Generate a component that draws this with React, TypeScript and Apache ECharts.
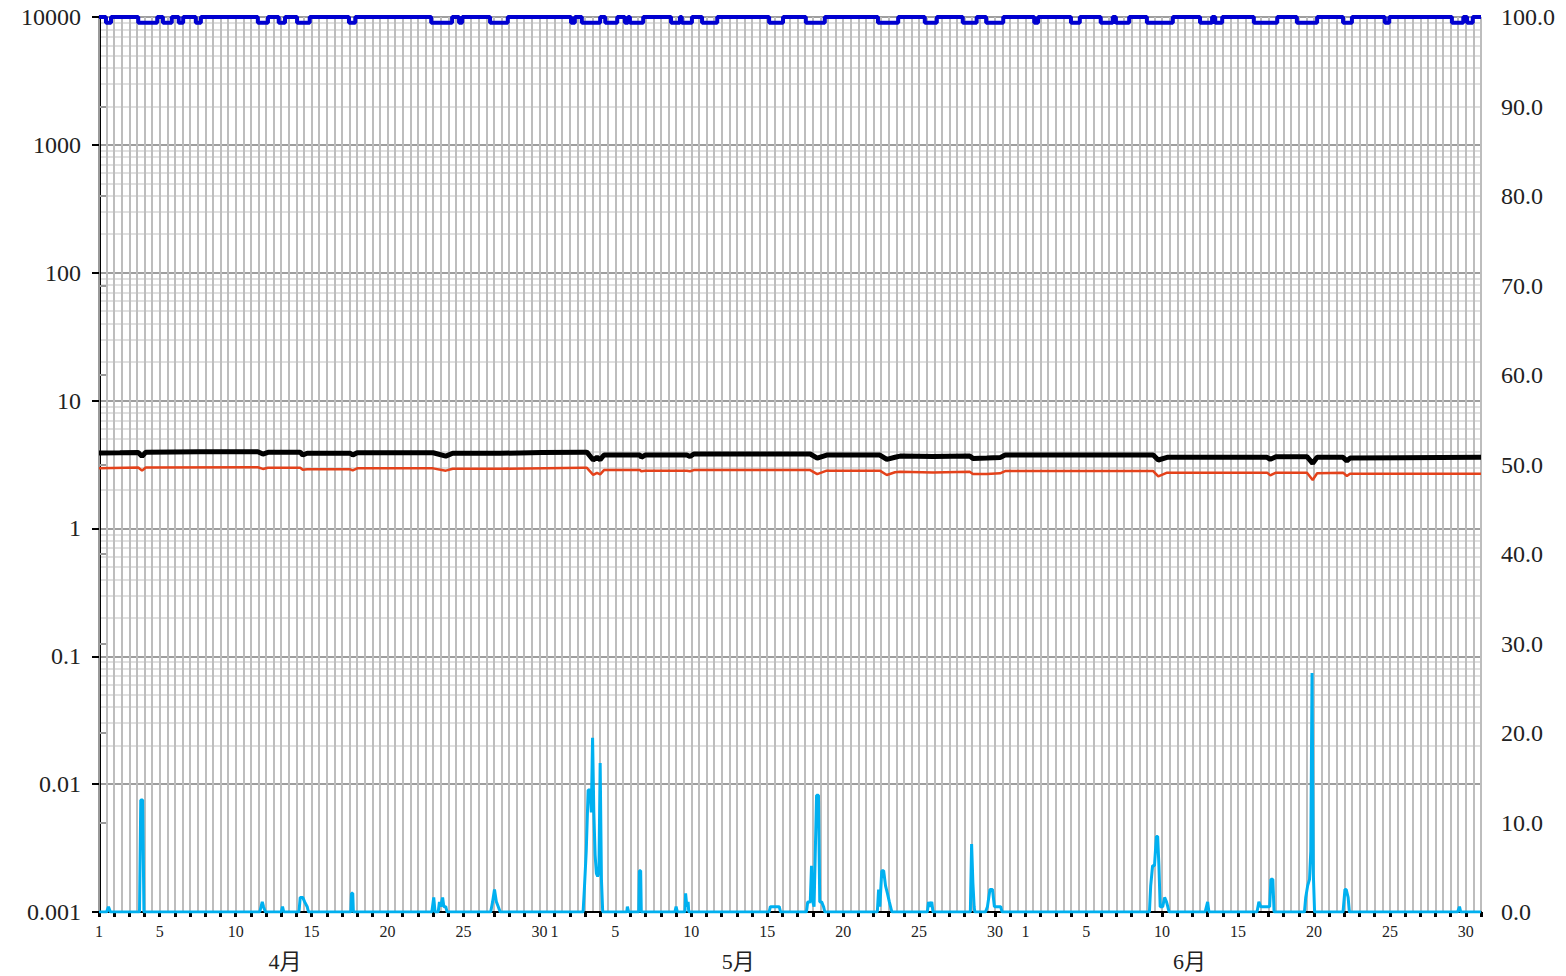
import React, { useEffect, useRef } from 'react';
import * as echarts from 'echarts';

// ---------- data ----------
// x values are hours counted from 1 April 00:00 (3 months: Apr, May, Jun)
const monthDays = [30, 31, 30];
const monthNames = ['4月', '5月', '6月'];
const dayTickLabels = [1, 5, 10, 15, 20, 25, 30];
const logMin = 0.001;
const logMax = 10000;
const rightMax = 100;
const rightInterval = 10;

// black series (left log axis)
const blackPoints: [number, number][] = [
  [0, 3.89], [33, 3.91], [62, 3.93], [68, 3.66], [74, 3.95], [160, 3.98], [251, 3.98], [259, 3.82],
  [267, 3.94], [318, 3.94], [322, 3.75], [329, 3.87], [397, 3.87], [401, 3.75], [408, 3.91],
  [528, 3.91], [548, 3.68], [559, 3.87], [634, 3.87], [700, 3.92], [765, 3.95], [771, 3.95],
  [781, 3.43], [787, 3.6], [792, 3.45], [798, 3.75], [855, 3.75], [857, 3.6], [863, 3.75],
  [929, 3.75], [934, 3.65], [940, 3.82], [1124, 3.82], [1135, 3.55], [1150, 3.75], [1234, 3.75],
  [1245, 3.47], [1258, 3.6], [1266, 3.68], [1318, 3.65], [1376, 3.68], [1381, 3.53], [1403, 3.55],
  [1424, 3.58], [1432, 3.75], [1666, 3.75], [1674, 3.43], [1688, 3.6], [1846, 3.6], [1851, 3.47],
  [1860, 3.64], [1909, 3.64], [1918, 3.23], [1925, 3.6], [1966, 3.6], [1972, 3.38], [1977, 3.55],
  [2056, 3.57], [2184, 3.6],
];

// red series (left log axis)
const redPoints: [number, number][] = [
  [0, 2.95], [62, 3.0], [68, 2.83], [74, 3.0], [251, 3.01], [259, 2.92], [267, 2.98], [318, 2.98],
  [322, 2.88], [329, 2.9], [397, 2.9], [401, 2.84], [408, 2.95], [528, 2.95], [548, 2.83],
  [559, 2.93], [634, 2.93], [765, 2.98], [771, 2.98], [781, 2.62], [787, 2.72], [792, 2.65],
  [798, 2.86], [855, 2.86], [857, 2.8], [863, 2.83], [929, 2.83], [934, 2.8], [940, 2.86],
  [1124, 2.86], [1135, 2.66], [1150, 2.83], [1234, 2.83], [1245, 2.62], [1258, 2.75], [1266, 2.77],
  [1318, 2.74], [1376, 2.77], [1381, 2.66], [1403, 2.66], [1424, 2.7], [1432, 2.81], [1666, 2.81],
  [1674, 2.55], [1688, 2.73], [1846, 2.73], [1851, 2.6], [1860, 2.73], [1909, 2.73], [1918, 2.39],
  [1925, 2.7], [1966, 2.73], [1972, 2.57], [1977, 2.68], [2184, 2.68],
];

// cyan series (left log axis), baseline 0.001
const cyanPoints: [number, number][] = [
  [0, 0.001], [12, 0.001], [15, 0.0011], [18, 0.001],
  [64, 0.001], [66, 0.0075], [69, 0.0075], [71, 0.001],
  [254, 0.001], [258, 0.0012], [260, 0.0011], [263, 0.001],
  [288, 0.001], [290, 0.0011], [292, 0.001],
  [316, 0.001], [318, 0.0013], [322, 0.0013], [325, 0.0012], [329, 0.0011], [331, 0.001],
  [398, 0.001], [399, 0.0014], [401, 0.0014], [402, 0.001],
  [526, 0.001], [529, 0.0013], [531, 0.001],
  [536, 0.001], [538, 0.0012], [540, 0.0011], [543, 0.0013], [545, 0.0011], [548, 0.0011], [550, 0.001],
  [619, 0.001], [622, 0.0012], [625, 0.0015], [628, 0.0012], [631, 0.0011], [634, 0.001],
  [765, 0.001], [767, 0.0015], [770, 0.003], [773, 0.009], [776, 0.009], [778, 0.006], [780, 0.023],
  [782, 0.006], [784, 0.0028], [786, 0.002], [788, 0.0019], [790, 0.002], [792, 0.0146], [794, 0.0018], [796, 0.001],
  [834, 0.001], [835, 0.0011], [837, 0.001],
  [853, 0.001], [854, 0.0021], [856, 0.0021], [857, 0.001],
  [910, 0.001], [912, 0.0011], [914, 0.001],
  [926, 0.001], [927, 0.0014], [929, 0.0011], [931, 0.0012], [932, 0.001],
  [1059, 0.001], [1061, 0.0011], [1075, 0.0011], [1077, 0.001],
  [1118, 0.001], [1120, 0.0012], [1124, 0.0012], [1126, 0.0023], [1128, 0.0012], [1130, 0.0011],
  [1134, 0.0082], [1137, 0.0082], [1139, 0.0012], [1142, 0.0012], [1145, 0.0011], [1147, 0.001],
  [1230, 0.001], [1232, 0.0015], [1234, 0.0011], [1237, 0.0021], [1240, 0.0021], [1243, 0.0016],
  [1246, 0.0014], [1249, 0.0012], [1253, 0.001],
  [1309, 0.001], [1311, 0.0012], [1313, 0.0011], [1316, 0.0012], [1318, 0.001],
  [1377, 0.001], [1379, 0.0034], [1381, 0.0017], [1383, 0.0011], [1384, 0.001],
  [1401, 0.001], [1404, 0.0011], [1408, 0.0015], [1412, 0.0015], [1415, 0.0011], [1425, 0.0011], [1427, 0.001],
  [1660, 0.001], [1662, 0.0016], [1665, 0.0023], [1668, 0.0023], [1671, 0.0039], [1673, 0.0039],
  [1675, 0.0023], [1677, 0.0011], [1681, 0.0011], [1684, 0.0013], [1687, 0.0012], [1689, 0.0011], [1691, 0.001],
  [1748, 0.001], [1752, 0.0012], [1754, 0.001],
  [1830, 0.001], [1833, 0.0012], [1836, 0.0011], [1850, 0.0011], [1852, 0.0018], [1855, 0.0018], [1857, 0.001],
  [1905, 0.001], [1907, 0.0013], [1910, 0.0016], [1913, 0.0018], [1915, 0.003], [1917, 0.074], [1919, 0.002], [1921, 0.001],
  [1966, 0.001], [1969, 0.0015], [1971, 0.0015], [1974, 0.0013], [1976, 0.001],
  [2147, 0.001], [2150, 0.0011], [2152, 0.001],
  [2184, 0.001],
];

// blue series (right axis): normally 100, with dips [startHour, endHour]
const blueTop = 100;
const blueDipValue = 99.35;
const blueDips: [number, number][] = [
  [11, 19], [62, 92], [101, 115], [126, 133], [153, 161], [251, 267], [284, 294], [313, 333],
  [395, 405], [525, 558], [569, 574], [618, 646], [746, 752], [763, 792], [800, 819], [831, 836],
  [839, 860], [904, 918], [921, 937], [953, 977], [1059, 1081], [1117, 1147], [1231, 1263],
  [1305, 1324], [1365, 1387], [1402, 1429], [1478, 1484], [1536, 1550], [1583, 1602], [1607, 1628],
  [1656, 1697], [1740, 1759], [1764, 1775], [1825, 1862], [1893, 1925], [1966, 1980], [2032, 2039],
  [2138, 2156], [2162, 2171],
];

// ---------- layout ----------
const W = 1566;
const H = 976;
const GRID = { left: 99, right: 85, top: 17, bottom: 64 };
const monthLabelDayPos = [12.25, 42.1, 71.8];
const SERIF = 'Liberation Serif';

const X_MAX = monthDays.reduce((a, b) => a + b, 0) * 24;

function dayLabel(v: number): string {
  let d = Math.round(v / 24);
  for (let i = 0; i < monthDays.length; i++) {
    if (d < monthDays[i]) {
      const dom = d + 1;
      return dayTickLabels.includes(dom) ? String(dom) : '';
    }
    d -= monthDays[i];
  }
  return '';
}

function buildBlue(): [number, number][] {
  const out: [number, number][] = [[0, blueTop]];
  for (const [s, e] of blueDips) {
    out.push([s, blueTop], [s, blueDipValue], [e, blueDipValue], [e, blueTop]);
  }
  out.push([X_MAX, blueTop]);
  return out;
}

function minorLogLines() {
  const arr: { yAxis: number }[] = [];
  for (let p = Math.round(Math.log10(logMin)); p < Math.round(Math.log10(logMax)); p++) {
    for (let m = 2; m <= 9; m++) arr.push({ yAxis: Number((m * Math.pow(10, p)).toPrecision(2)) });
  }
  return arr;
}

export default function App() {
  const ref = useRef<HTMLDivElement>(null);
  useEffect(() => {
    if (!ref.current) return;
    const chart = echarts.init(ref.current, null, { renderer: 'svg' });
    const gw = W - GRID.left - GRID.right;
    const option: any = {
      animation: false,
      backgroundColor: '#ffffff',
      grid: { ...GRID, containLabel: false },
      xAxis: {
        type: 'value',
        min: 0,
        max: X_MAX,
        interval: 24,
        z: 2,
        axisLine: { show: true, lineStyle: { color: '#000', width: 2 } },
        axisTick: { show: true, length: 5, lineStyle: { color: '#000', width: 3 } },
        axisLabel: {
          formatter: dayLabel,
          margin: 11,
          fontFamily: SERIF,
          fontSize: 16,
          color: '#222',
          showMinLabel: true,
          showMaxLabel: true,
          hideOverlap: false,
        },
        splitLine: { show: true, lineStyle: { color: '#BDBDBD', width: 2 } },
        minorTick: { show: false, splitNumber: 2 },
        minorSplitLine: { show: true, lineStyle: { color: '#BDBDBD', width: 2 } },
      },
      yAxis: [
        {
          type: 'log',
          logBase: 10,
          min: logMin,
          max: logMax,
          position: 'left',
          z: 2,
          axisLine: { show: true, onZero: false, lineStyle: { color: '#000', width: 3 } },
          axisTick: { show: true, length: 7, lineStyle: { color: '#000', width: 2 } },
          axisLabel: {
            margin: 18,
            fontFamily: SERIF,
            fontSize: 24,
            color: '#222',
            formatter: (v: number) => (v >= 1 ? String(Math.round(v)) : String(Number(v.toPrecision(1)))),
          },
          splitLine: { show: true, lineStyle: { color: '#9E9E9E', width: 2 } },
        },
        {
          type: 'value',
          min: 0,
          max: rightMax,
          interval: rightInterval,
          position: 'right',
          z: 2,
          axisLine: { show: true, lineStyle: { color: '#9A9A9A', width: 2 } },
          axisTick: { show: true, length: 7, lineStyle: { color: '#9A9A9A', width: 2 } },
          axisLabel: {
            margin: 20,
            fontFamily: SERIF,
            fontSize: 24,
            color: '#222',
            formatter: (v: number) => v.toFixed(1),
          },
          splitLine: { show: false },
        },
      ],
      series: [
        {
          name: 'grid-minor',
          type: 'line',
          yAxisIndex: 0,
          z: 1,
          data: [[0, logMin]],
          symbol: 'none',
          lineStyle: { opacity: 0 },
          silent: true,
          markLine: {
            silent: true,
            z: 1,
            symbol: 'none',
            label: { show: false },
            animation: false,
            lineStyle: { color: '#D6D6D6', width: 1.5, type: 'solid' },
            data: minorLogLines(),
          },
        },
        {
          name: 'blue',
          type: 'line',
          yAxisIndex: 1,
          z: 3,
          data: buildBlue(),
          symbol: 'none',
          lineStyle: { color: '#0000D0', width: 4 },
        },
        {
          name: 'black',
          type: 'line',
          yAxisIndex: 0,
          z: 3,
          data: blackPoints,
          symbol: 'none',
          lineStyle: { color: '#000000', width: 5 },
        },
        {
          name: 'red',
          type: 'line',
          yAxisIndex: 0,
          z: 4,
          data: redPoints,
          symbol: 'none',
          lineStyle: { color: '#E4421B', width: 2.5 },
        },
        {
          name: 'cyan',
          type: 'line',
          yAxisIndex: 0,
          z: 5,
          data: cyanPoints,
          symbol: 'none',
          lineStyle: { color: '#00B0F0', width: 3 },
        },
      ],
      graphic: monthNames.map((name, i) => ({
        type: 'text',
        x: GRID.left + (monthLabelDayPos[i] / (X_MAX / 24)) * gw,
        y: 961,
        style: {
          text: name,
          fontFamily: "Liberation Serif, 'Noto Sans CJK JP'",
          fontSize: 22,
          fill: '#222',
          textAlign: 'center',
          textVerticalAlign: 'middle',
        },
      })),
    };
    chart.setOption(option);
    return () => chart.dispose();
  }, []);
  return <div ref={ref} style={{ position: 'absolute', left: 0, top: 0, width: W, height: H }} />;
}
